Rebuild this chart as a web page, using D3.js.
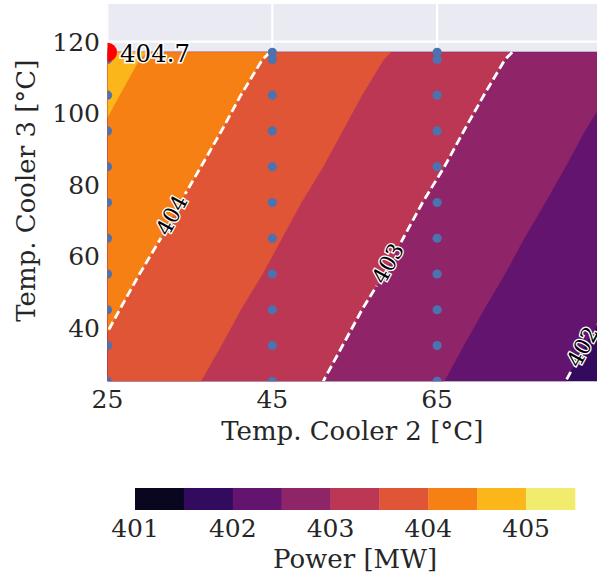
<!DOCTYPE html>
<html><head><meta charset="utf-8">
<script src="https://cdn.jsdelivr.net/npm/d3@7"></script>
<style>body{margin:0;background:#fff} svg{display:block}</style>
</head><body><svg id="c" width="597" height="577"></svg>
<script>
// ---- data ----
const t2 = [25, 45, 65, 85];                                  // Temp. Cooler 2 grid
const t3 = [25, 35, 45, 55, 65, 75, 85, 95, 105, 115, 117];   // Temp. Cooler 3 grid
// power[row for t3][column for t2], MW
const power = [
  [403.88, 403.21, 402.53, 401.85],
  [403.97, 403.29, 402.61, 401.93],
  [404.05, 403.37, 402.69, 402.02],
  [404.13, 403.46, 402.78, 402.10],
  [404.22, 403.54, 402.86, 402.18],
  [404.30, 403.62, 402.94, 402.27],
  [404.38, 403.71, 403.03, 402.35],
  [404.47, 403.79, 403.11, 402.43],
  [404.55, 403.87, 403.19, 402.52],
  [404.63, 403.96, 403.28, 402.60],
  [404.66, 403.99, 403.31, 402.63]
];
const sampleT2 = [25, 45, 65];
const levels = [401, 401.5, 402, 402.5, 403, 403.5, 404, 404.5, 405, 405.5];
const lineLevels = [402, 403, 404];
const labelT3 = [34.7, 58.0, 71.5];
const xTicks = [25, 45, 65];
const yTicks = [40, 60, 80, 100, 120];
const cbTicks = [401, 402, 403, 404, 405];

// ---- layout ----
const svg = d3.select("#c");
const L = 107.5, R = 597, T = 4, B = 381.3;
const x = d3.scaleLinear([25, 84.4], [L, R]);
const y = d3.scaleLinear([25, 130.5], [B, T]);
const font = "DejaVu Serif, serif";
const txt = "#262626";

svg.append("defs").append("clipPath").attr("id", "clip")
  .append("rect").attr("x", L).attr("y", T).attr("width", R - L).attr("height", B - T);

// background + grid
svg.append("rect").attr("x", L).attr("y", T).attr("width", R - L).attr("height", B - T).attr("fill", "#EAEAF2");
const grid = svg.append("g").attr("clip-path", "url(#clip)").attr("stroke", "#fff").attr("stroke-width", 2.2);
grid.selectAll(".gx").data(xTicks).join("line").attr("x1", d => x(d)).attr("x2", d => x(d)).attr("y1", T).attr("y2", B);
grid.selectAll(".gy").data(yTicks).join("line").attr("y1", d => y(d)).attr("y2", d => y(d)).attr("x1", L).attr("x2", R);

// contours
const nx = t2.length, ny = t3.length;
const flat = [];
for (let j = 0; j < ny; j++) for (let i = 0; i < nx; i++) flat.push(power[j][i]);
const ix = d3.scaleLinear(d3.range(nx), t2).clamp(true);
const iy = d3.scaleLinear(d3.range(ny), t3).clamp(true);
const cl = (v, n) => Math.max(0, Math.min(n - 1, v - 0.5));
const toPx = p => [x(ix(p[0] - 0.5)), y(iy(p[1] - 0.5))];
const color = i => d3.interpolateInferno((i + 0.5) / (levels.length - 1));

const plot = svg.append("g").attr("clip-path", "url(#clip)");
const bands = d3.contours().size([nx, ny]).thresholds(levels.slice(0, -1))(flat);
bands.forEach((c, i) => {
  let dstr = "";
  c.coordinates.forEach(poly => poly.forEach(ring => {
    dstr += "M" + ring.map(p => toPx(p).join(",")).join("L") + "Z";
  }));
  if (dstr) plot.append("path").attr("d", dstr).attr("fill", color(levels.indexOf(c.value)))
    .attr("fill-rule", "evenodd").attr("stroke", color(levels.indexOf(c.value))).attr("stroke-width", 0.3);
});

// iso lines
function isolines(level) {
  const c = d3.contours().size([nx, ny]).thresholds([level])(flat)[0];
  const lines = [];
  c.coordinates.forEach(poly => poly.forEach(ring0 => {
    const ring = ring0.slice(0, -1).map(p => [cl(p[0], nx), cl(p[1], ny)]);
    const n = ring.length;
    const eps = 1e-7;
    const edges = p => ({l: p[0] < eps, r: p[0] > nx - 1 - eps, b: p[1] < eps, t: p[1] > ny - 1 - eps});
    const skip = k => {
      const a = edges(ring[k]), b = edges(ring[(k + 1) % n]);
      return (a.l && b.l) || (a.r && b.r) || (a.b && b.b) || (a.t && b.t);
    };
    let start = -1;
    for (let k = 0; k < n; k++) if (skip(k)) { start = k; break; }
    if (start < 0) start = 0;
    let cur = null;
    for (let s = 1; s <= n; s++) {
      const k = (start + s) % n;
      if (skip(k)) { if (cur) { lines.push(cur); cur = null; } continue; }
      if (!cur) cur = [ring[k]];
      cur.push(ring[(k + 1) % n]);
    }
    if (cur) lines.push(cur);
  }));
  return lines.map(l => l.map(p => [x(ix(p[0])), y(iy(p[1]))]));
}

const mask = svg.select("defs").append("mask").attr("id", "lblmask").attr("maskUnits", "userSpaceOnUse")
  .attr("x", 0).attr("y", 0).attr("width", 597).attr("height", 577);
mask.append("rect").attr("width", 597).attr("height", 577).attr("fill", "#fff");
const lineG = plot.append("g").attr("mask", "url(#lblmask)");
const labelG = plot.append("g");

lineLevels.forEach((lv, li) => {
  const ls = isolines(lv);
  ls.forEach(l => lineG.append("path").attr("d", "M" + l.map(p => p.join(",")).join("L"))
    .attr("fill", "none").attr("stroke", "#fff").attr("stroke-width", 2.8).attr("stroke-dasharray", "8.5,4"));
  // label
  const yl = y(labelT3[li]);
  for (const l of ls) {
    for (let k = 0; k < l.length - 1; k++) {
      const a = l[k], b = l[k + 1];
      if ((a[1] - yl) * (b[1] - yl) <= 0 && a[1] !== b[1]) {
        const f = (yl - a[1]) / (b[1] - a[1]);
        const px = a[0] + f * (b[0] - a[0]);
        let ang = Math.atan2(b[1] - a[1], b[0] - a[0]) * 180 / Math.PI;
        if (ang > 90) ang -= 180; if (ang < -90) ang += 180;
        const t = labelG.append("text").attr("transform", `translate(${px - 2},${yl}) rotate(${ang})`)
          .attr("text-anchor", "middle").attr("dy", "0.36em")
          .attr("font-family", font).attr("font-size", 22).attr("fill", "#000")
          .attr("stroke", "#fff").attr("stroke-width", 2.6).attr("paint-order", "stroke")
          .text(d3.format("d")(lv));
        const w = t.node().getComputedTextLength();
        mask.append("rect").attr("x", -w / 2 - 4).attr("y", -14).attr("width", w + 8).attr("height", 28)
          .attr("fill", "#000").attr("transform", `translate(${px - 2},${yl}) rotate(${ang})`);
        break;
      }
    }
  }
});

// sample points
const pts = [];
sampleT2.forEach(a => t3.forEach(b => pts.push([a, b])));
plot.append("g").selectAll("circle").data(pts).join("circle")
  .attr("cx", d => x(d[0])).attr("cy", d => y(d[1])).attr("r", 4.6).attr("fill", "#4C72B0");

// max point
let best = null;
for (let j = 0; j < ny; j++) for (let i = 0; i < nx; i++)
  if (!best || power[j][i] > best.v) best = {v: power[j][i], a: t2[i], b: t3[j]};
plot.append("circle").attr("cx", x(best.a)).attr("cy", y(best.b)).attr("r", 9.5).attr("fill", "#FF0000");
svg.append("text").attr("x", x(best.a) + 12.5).attr("y", y(best.b) + 9.8)
  .attr("font-family", font).attr("font-size", 24.5).attr("fill", "#000")
  .attr("stroke", "#fff").attr("stroke-width", 3).attr("paint-order", "stroke")
  .text(d3.format(".1f")(best.v));

// axes tick labels
svg.append("g").selectAll("text").data(xTicks).join("text")
  .attr("x", d => x(d)).attr("y", 408).attr("text-anchor", "middle")
  .attr("font-family", font).attr("font-size", 25).attr("fill", txt).text(d => d);
svg.append("g").selectAll("text").data(yTicks).join("text")
  .attr("x", 100).attr("y", d => y(d)).attr("dy", "0.36em").attr("text-anchor", "end")
  .attr("font-family", font).attr("font-size", 25).attr("fill", txt).text(d => d);
svg.append("text").attr("x", (L + R) / 2).attr("y", 440).attr("text-anchor", "middle")
  .attr("font-family", font).attr("font-size", 26).attr("fill", txt).text("Temp. Cooler 2 [°C]");
svg.append("text").attr("transform", `translate(35,${(T + B) / 2 - 2}) rotate(-90)`).attr("text-anchor", "middle")
  .attr("font-family", font).attr("font-size", 26).attr("fill", txt).text("Temp. Cooler 3 [°C]");

// colorbar
const cb = d3.scaleLinear([levels[0], levels[levels.length - 1]], [135, 575]);
svg.append("g").selectAll("rect").data(levels.slice(0, -1)).join("rect")
  .attr("x", (d) => cb(d)).attr("y", 488).attr("width", (d, i) => cb(levels[i + 1]) - cb(d) + 0.3).attr("height", 22)
  .attr("fill", (d, i) => color(i));
svg.append("g").selectAll("text").data(cbTicks).join("text")
  .attr("x", d => cb(d)).attr("y", 537).attr("text-anchor", "middle")
  .attr("font-family", font).attr("font-size", 25).attr("fill", txt).text(d => d);
svg.append("text").attr("x", (135 + 575) / 2).attr("y", 568).attr("text-anchor", "middle")
  .attr("font-family", font).attr("font-size", 26).attr("fill", txt).text("Power [MW]");
</script></body></html>
